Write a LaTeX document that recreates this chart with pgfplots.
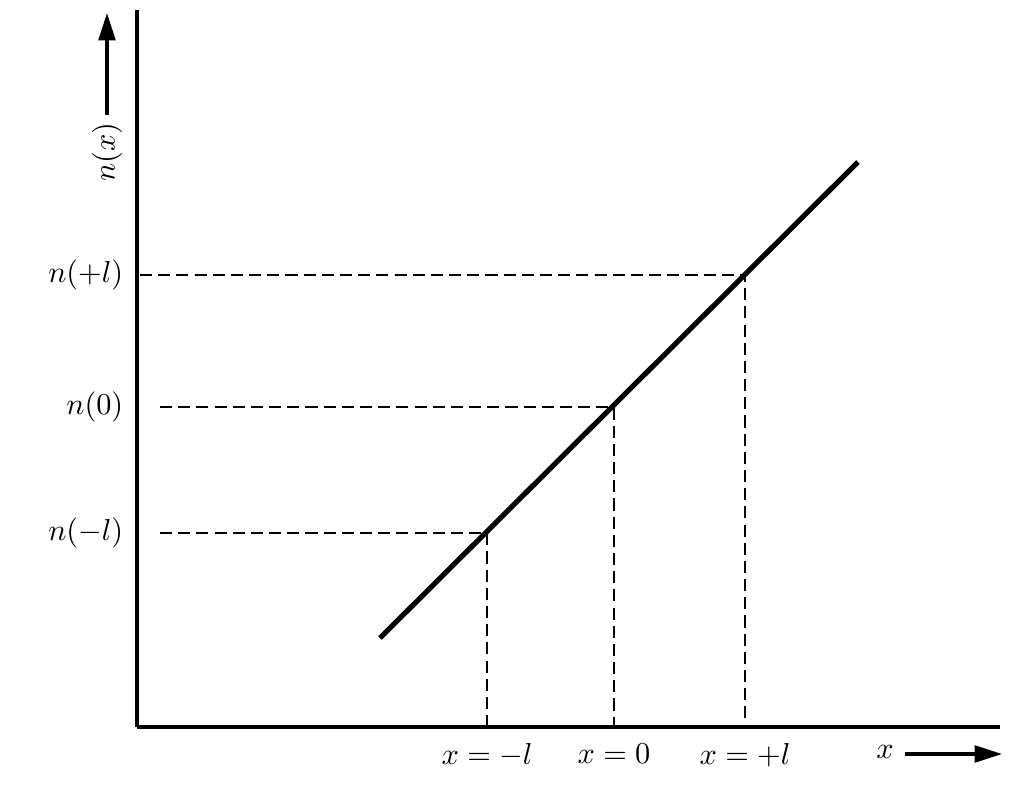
\documentclass[border=0pt]{standalone}
\usepackage{pgfplots}
\pgfplotsset{compat=1.18}
\usetikzlibrary{arrows.meta}

% data units are reference pixels (y measured upwards)
\begin{document}
\begin{tikzpicture}
\begin{axis}[
    x=0.33pt, y=0.33pt,
    xmin=137, xmax=1000,
    ymin=64, ymax=781,
    axis x line=bottom,
    axis y line=left,
    axis line style={-, line width=1pt},
    xtick={487,614,745},
    xticklabels={$x=-l$, $x=0$, $x=+l$},
    ytick={258,384,516},
    yticklabels={$n(-l)$, $n(0)$, $n(+l)$},
    major tick length=0pt,
    xticklabel style={yshift=-2pt},
    yticklabel style={xshift=-1pt},
    clip=false,
]
% projections
\addplot[black, line width=0.5pt, dash pattern=on 4pt off 2pt] coordinates {(160,258) (487,258) (487,64)};
\addplot[black, line width=0.5pt, dash pattern=on 4pt off 2pt] coordinates {(160,384) (614,384) (614,64)};
\addplot[black, line width=0.5pt, dash pattern=on 4pt off 2pt] coordinates {(140,516) (745,516) (745,64)};
% n(x)
\addplot[black, line width=1.7pt] coordinates {(380,153) (858,629)};

\coordinate (bl) at (axis cs:0,0);
\coordinate (tr) at (axis cs:1019,791);
\node[rotate=90] at (axis cs:107,639) {$n(x)$};
\draw[line width=1.1pt, -{Triangle[length=9pt,width=5.5pt]}] (axis cs:107,676) -- (axis cs:107,778);
\node at (axis cs:885,39) {$x$};
\draw[line width=1.1pt, -{Triangle[length=9pt,width=5.5pt]}] (axis cs:905,37) -- (axis cs:1002,37);
\end{axis}
\pgfresetboundingbox
\path[use as bounding box] (bl) rectangle (tr);
\end{tikzpicture}
\end{document}
